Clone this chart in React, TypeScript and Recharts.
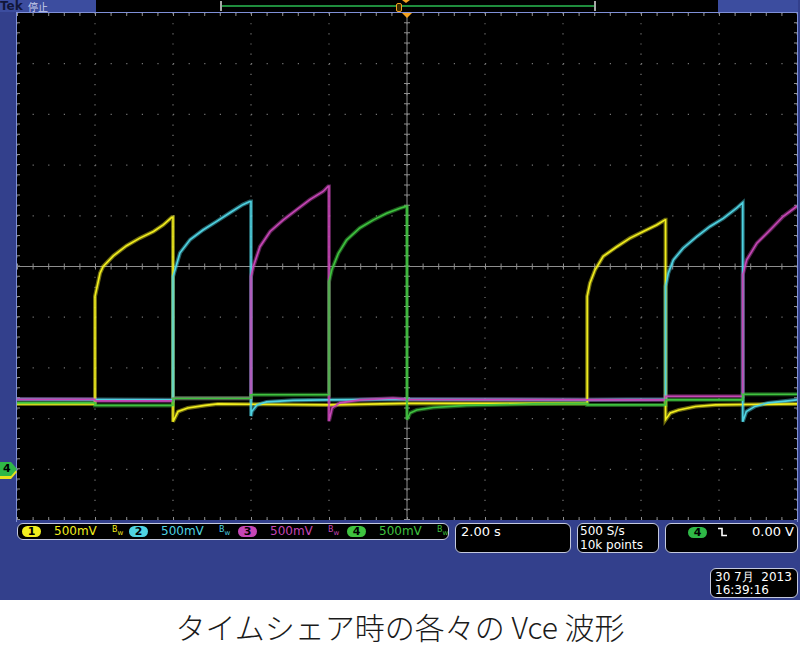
import { CartesianGrid, Line, LineChart, ReferenceLine, XAxis, YAxis } from "recharts"

// time in seconds (2 s/div, trigger at centre), value in screen divisions (500 mV/div)
const xTicks = [-10, -8, -6, -4, -2, 0, 2, 4, 6, 8, 10]
const yTicks = [-5, -4, -3, -2, -1, 0, 1, 2, 3, 4, 5]

const ch1: [number, number][] = [
  [-10, -2.71], [-8, -2.71], [-8, -0.59], [-7.87, -0.13], [-7.79, 0], [-7.53, 0.21],
  [-7.19, 0.41], [-6.85, 0.56], [-6.5, 0.69], [-6.25, 0.82], [-6.03, 0.97], [-6, 0.97],
  [-6, -3.06], [-5.87, -2.86], [-5.62, -2.79], [-5.18, -2.74], [-4.85, -2.71], [-2, -2.73],
  [0, -2.7], [4.62, -2.7], [4.62, -0.59], [4.69, -0.33], [4.82, -0.07], [5.03, 0.2],
  [5.38, 0.39], [5.72, 0.56], [6.06, 0.69], [6.4, 0.82], [6.62, 0.92], [6.63, 0.92],
  [6.63, -3.02], [6.75, -2.89], [6.97, -2.83], [7.4, -2.76], [7.91, -2.73], [10, -2.71],
]

const ch2: [number, number][] = [
  [-10, -2.62], [-6, -2.63], [-6, -0.2], [-5.95, -0.07], [-5.82, 0.27], [-5.56, 0.53],
  [-5.23, 0.72], [-4.88, 0.89], [-4.54, 1.06], [-4.21, 1.22], [-4.03, 1.28], [-4, 1.28],
  [-4, -2.95], [-3.98, -2.86], [-3.85, -2.73], [-3.6, -2.67], [-2.92, -2.64], [-2.06, -2.63],
  [0, -2.62], [4.62, -2.63], [6.63, -2.62], [6.63, -0.39], [6.7, -0.13], [6.83, 0.13],
  [7.08, 0.36], [7.43, 0.59], [7.77, 0.79], [8.11, 0.95], [8.45, 1.15], [8.61, 1.26],
  [8.61, -3.06], [8.7, -2.86], [8.92, -2.76], [9.26, -2.69], [9.77, -2.65], [10, -2.63],
]

const ch3: [number, number][] = [
  [-10, -2.62], [-8, -2.62], [-8, -2.65], [-6, -2.65], [-6, -2.6], [-4, -2.6],
  [-4, -0.2], [-3.94, 0], [-3.77, 0.39], [-3.51, 0.69], [-3.17, 0.92], [-2.83, 1.12],
  [-2.49, 1.32], [-2.15, 1.48], [-2.02, 1.58], [-2, 1.58], [-2, -3.05], [-1.92, -2.79],
  [-1.72, -2.69], [-1.21, -2.63], [-0.36, -2.6], [0, -2.62], [4.62, -2.63], [6.63, -2.63],
  [6.63, -2.56], [8.61, -2.56], [8.61, -0.16], [8.71, 0.13], [8.97, 0.46], [9.31, 0.72],
  [9.65, 0.99], [10, 1.19],
]

const ch4: [number, number][] = [
  [-10, -2.69], [-8, -2.69], [-8, -2.74], [-6, -2.74], [-6, -2.6], [-4, -2.6],
  [-4, -2.53], [-2, -2.53], [-2, -0.3], [-1.93, -0.07], [-1.76, 0.26], [-1.55, 0.52],
  [-1.21, 0.76], [-0.86, 0.92], [-0.52, 1.05], [-0.18, 1.15], [-0.05, 1.18], [0, 1.18],
  [0, -3.02], [0.08, -2.89], [0.25, -2.83], [0.67, -2.78], [1.53, -2.74], [3.23, -2.71],
  [4.62, -2.7], [4.62, -2.73], [6.63, -2.73], [6.63, -2.63], [8.61, -2.63], [8.61, -2.52],
  [10, -2.52],
]

const channels = [
  { name: "1", color: "#f2ee1e", points: ch1 },
  { name: "2", color: "#4fd3e2", points: ch2 },
  { name: "3", color: "#c646b6", points: ch3 },
  { name: "4", color: "#3fc23f", points: ch4 },
]

const BLUE = "#33408c"
const PANEL = "#3c4d9f"
const EDGE = "#7f90d8"
const ORANGE = "#f4a21f"
const GRID = "#767676"
const CROSS = "#8e8e8e"

const boxStyle: React.CSSProperties = {
  position: "absolute",
  background: "#000",
  border: "1.5px solid #c4c9de",
  borderRadius: 6,
  boxSizing: "border-box",
}

function abs(left: number, top: number, extra: React.CSSProperties = {}): React.CSSProperties {
  return { position: "absolute", left, top, ...extra }
}

function Pill({ x, y, color, label }: { x: number; y: number; color: string; label: string }) {
  return (
    <div
      style={abs(x, y, {
        width: 19,
        height: 11,
        borderRadius: 6,
        background: color,
        color: "#000",
        fontSize: 11,
        fontWeight: 700,
        lineHeight: "11px",
        textAlign: "center",
      })}
    >
      {label}
    </div>
  )
}

function Bw({ x, color }: { x: number; color: string }) {
  return (
    <div style={abs(x, 526, { color, fontSize: 8, lineHeight: "8px" })}>
      B<span style={{ fontSize: 7, position: "relative", top: 3 }}>w</span>
    </div>
  )
}

function Scope() {
  return (
    <LineChart
      width={780}
      height={507}
      margin={{ top: 0, right: 0, bottom: 0, left: 0 }}
      style={{ background: "#000" }}
    >
      <XAxis type="number" dataKey="t" domain={[-10, 10]} ticks={xTicks} hide allowDataOverflow />
      <YAxis type="number" domain={[-5, 5]} ticks={yTicks} hide allowDataOverflow />
      <CartesianGrid horizontal={false} stroke={GRID} strokeWidth={1.2} strokeDasharray="1.2 8.94" />
      <CartesianGrid vertical={false} stroke={GRID} strokeWidth={1.2} strokeDasharray="1.2 14.4" />
      <ReferenceLine y={0} stroke={CROSS} />
      <ReferenceLine x={0} stroke={CROSS} />
      <ReferenceLine y={0} stroke={CROSS} strokeWidth={6} strokeDasharray="1 14.6" />
      <ReferenceLine x={0} stroke={CROSS} strokeWidth={6} strokeDasharray="1 9.14" />
      <ReferenceLine y={5} stroke={CROSS} strokeWidth={6} strokeDasharray="1 14.6" />
      <ReferenceLine y={-5} stroke={CROSS} strokeWidth={6} strokeDasharray="1 14.6" />
      <ReferenceLine x={-10} stroke={CROSS} strokeWidth={6} strokeDasharray="1 9.14" />
      <ReferenceLine x={10} stroke={CROSS} strokeWidth={6} strokeDasharray="1 9.14" />
      {channels.map((c) => (
        <Line
          key={"halo" + c.name}
          data={c.points.map(([t, v]) => ({ t, v }))}
          dataKey="v"
          type="linear"
          stroke={c.color}
          strokeOpacity={0.45}
          strokeWidth={4}
          dot={false}
          activeDot={false}
          isAnimationActive={false}
        />
      ))}
      {channels.map((c) => (
        <Line
          key={"core" + c.name}
          data={c.points.map(([t, v]) => ({ t, v }))}
          dataKey="v"
          type="linear"
          stroke={c.color}
          strokeWidth={1.6}
          dot={false}
          activeDot={false}
          isAnimationActive={false}
        />
      ))}
    </LineChart>
  )
}

export default function App() {
  const mono = { color: "#fff", fontSize: 13, lineHeight: "12px", whiteSpace: "pre" as const }
  return (
    <div
      style={{
        position: "relative",
        width: 800,
        height: 656,
        background: "#fff",
        overflow: "hidden",
        fontFamily: '"DejaVu Sans", sans-serif',
      }}
    >
      <style>{"body{margin:0}"}</style>
      <div style={abs(0, 0, { width: 800, height: 600, background: BLUE })} />

      {/* top record bar */}
      <div style={abs(0, 0, { width: 96, height: 12, background: PANEL })}>
        <span
          style={{
            position: "absolute",
            left: 0,
            top: 0,
            fontSize: 12,
            lineHeight: "12px",
            fontWeight: 700,
            color: "#11163a",
          }}
        >
          Tek
        </span>
        <span
          style={{
            position: "absolute",
            left: 28,
            top: 1,
            fontSize: 10,
            lineHeight: "11px",
            color: "#c9cfea",
            fontFamily: '"Noto Sans CJK JP", sans-serif',
          }}
        >
          停止
        </span>
      </div>
      <div style={abs(96, 0, { width: 622, height: 12, background: "#000" })} />
      <div style={abs(221, 5, { width: 373, height: 2, background: "#1f8c3d" })} />
      <div style={abs(220, 1, { width: 1.5, height: 10, background: "#a8a8a8" })} />
      <div style={abs(594, 1, { width: 1.5, height: 10, background: "#a8a8a8" })} />
      <div style={abs(718, 0, { width: 80, height: 12, background: PANEL })} />
      <div
        style={abs(402, 0, {
          width: 0,
          height: 0,
          borderLeft: "4px solid transparent",
          borderRight: "4px solid transparent",
          borderTop: `3px solid ${ORANGE}`,
        })}
      />
      <div
        style={abs(396, 3, {
          width: 6,
          height: 9,
          border: `1.5px solid ${ORANGE}`,
          borderRadius: 2,
          background: "#3a2a00",
          boxSizing: "border-box",
        })}
      />

      {/* plot frame */}
      <div style={abs(16, 12, { width: 782, height: 1, background: EDGE })} />
      <div style={abs(16, 12, { width: 1, height: 510, background: EDGE })} />
      <div style={abs(797, 12, { width: 1, height: 510, background: EDGE })} />
      <div style={abs(17, 13)}>
        <Scope />
      </div>
      <div
        style={abs(402, 13, {
          width: 0,
          height: 0,
          borderLeft: "5px solid transparent",
          borderRight: "5px solid transparent",
          borderTop: `5px solid ${ORANGE}`,
        })}
      />

      {/* ch4 ground marker */}
      <div
        style={abs(0, 465, {
          width: 17,
          height: 14,
          background: "#e8e21c",
          clipPath: "polygon(0 0, 65% 0, 100% 50%, 65% 100%, 0 100%)",
        })}
      />
      <div
        style={abs(0, 462, {
          width: 17,
          height: 14,
          background: "#2fb847",
          clipPath: "polygon(0 0, 65% 0, 100% 50%, 65% 100%, 0 100%)",
          color: "#000",
          fontSize: 11,
          fontWeight: 700,
          lineHeight: "14px",
          paddingLeft: 3,
          boxSizing: "border-box",
        })}
      >
        4
      </div>

      {/* channel bar */}
      <div style={{ ...boxStyle, left: 17, top: 523, width: 432, height: 17 }} />
      {channels.map((c, i) => {
        const x0 = [22, 129, 238, 347][i]
        return (
          <div key={"bar" + c.name}>
            <Pill x={x0} y={526} color={c.color} label={c.name} />
            <div style={abs(x0 + 32, 525, { color: c.color, fontSize: 12, lineHeight: "13px" })}>500mV</div>
            <Bw x={x0 + 90} color={c.color} />
          </div>
        )
      })}

      {/* horizontal / acquisition / trigger */}
      <div style={{ ...boxStyle, left: 455, top: 523, width: 116, height: 30 }} />
      <div style={abs(461, 526, mono)}>2.00 s</div>
      <div style={{ ...boxStyle, left: 577, top: 523, width: 82, height: 30 }} />
      <div style={abs(580, 525, { ...mono, fontSize: 12 })}>500 S/s</div>
      <div style={abs(580, 539, { ...mono, fontSize: 12 })}>10k points</div>
      <div style={{ ...boxStyle, left: 665, top: 523, width: 133, height: 30 }} />
      <Pill x={688} y={527} color="#2fb847" label="4" />
      <svg style={abs(718, 527)} width={10} height={10}>
        <path d="M0 1.5 H4 V8.5 H9" stroke="#fff" strokeWidth={1.6} fill="none" />
      </svg>
      <div style={abs(752, 526, mono)}>0.00 V</div>

      {/* date */}
      <div style={{ ...boxStyle, left: 710, top: 568, width: 88, height: 30 }} />
      <div style={abs(715, 571, { ...mono, fontSize: 12 })}>30 7月  2013</div>
      <div style={abs(715, 584, { ...mono, fontSize: 12 })}>16:39:16</div>

      {/* caption */}
      <div
        style={abs(0, 611, {
          width: 800,
          textAlign: "center",
          fontSize: 30,
          lineHeight: "30px",
          color: "#1a1a1a",
          fontFamily: '"Noto Sans CJK JP", sans-serif',
          fontWeight: 300,
        })}
      >
        タイムシェア時の各々の Vce 波形
      </div>
    </div>
  )
}
